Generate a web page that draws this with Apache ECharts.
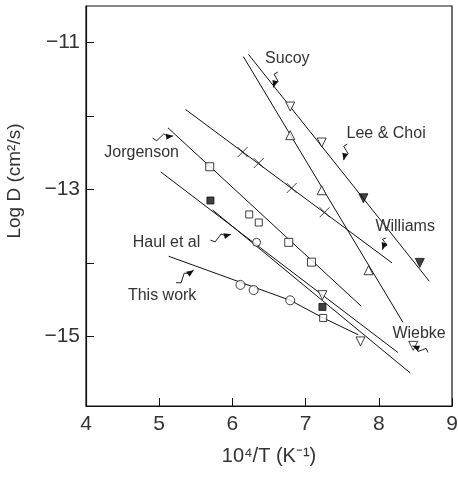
<!DOCTYPE html>
<html><head><meta charset="utf-8">
<script src="https://cdn.jsdelivr.net/npm/echarts@6/dist/echarts.min.js"></script>
<style>html,body{margin:0;padding:0;background:#fff}#c{width:458px;height:478px}</style>
</head><body><div id="c"></div>
<script>
// ---- axis ticks ----
const xTickLabels = [4, 5, 6, 7, 8, 9];
const yTickValues = [-15, -14, -13, -12, -11];
const yLabelValues = [-15, -13, -11];

// ---- fitted lines (x endpoints, y endpoints) ----
const sucoyLineX = [6.15, 8.33];   const sucoyLineY = [-11.19, -14.81];
const leeChoiLineX = [6.22, 8.69]; const leeChoiLineY = [-11.16, -14.25];
const williamsLineX = [5.36, 8.18]; const williamsLineY = [-11.91, -14.00];
const jorgensonLineX = [5.12, 7.76]; const jorgensonLineY = [-12.16, -14.59];
const haulLineX = [5.02, 8.26]; const haulLineY = [-12.76, -15.22];
const wiebkeLineX = [5.73, 8.43]; const wiebkeLineY = [-13.28, -15.50];
const thisWorkLineX = [5.13, 6.79, 7.24, 7.72]; const thisWorkLineY = [-13.91, -14.51, -14.75, -14.98];

// ---- data points ----
const sucoyPtsX = [6.79, 7.22, 7.86]; const sucoyPtsY = [-12.26, -13.01, -14.10];
const leeChoiOpenX = [6.79, 7.22]; const leeChoiOpenY = [-11.87, -12.36];
const leeChoiFillX = [7.79, 8.56]; const leeChoiFillY = [-13.12, -14.00];
const williamsPtsX = [6.14, 6.36, 6.81, 7.26]; const williamsPtsY = [-12.49, -12.64, -12.98, -13.31];
const jorgensonPtsX = [5.69, 6.77, 7.08]; const jorgensonPtsY = [-12.69, -13.72, -13.99];
const haulFillX = [5.70, 7.23]; const haulFillY = [-13.15, -14.60];
const haulOpenSqX = [6.23, 6.36, 7.24]; const haulOpenSqY = [-13.34, -13.45, -14.75];
const thisWorkPtsX = [6.11, 6.29, 6.79]; const thisWorkPtsY = [-14.30, -14.37, -14.51];
const hexPtsX = [6.33]; const hexPtsY = [-13.72];
const wiebkePtsX = [7.23, 7.75, 8.47]; const wiebkePtsY = [-14.44, -15.07, -15.13];

// ---- annotation labels ----
const labelTexts = ['Sucoy', 'Lee & Choi', 'Williams', 'Jorgenson', 'Haul et al', 'This work', 'Wiebke'];
const labelX = [6.75, 8.10, 8.36, 4.76, 5.10, 5.04, 8.55];
const labelY = [-11.21, -12.24, -13.51, -12.50, -13.73, -14.45, -14.97];
const pointerFromX = [6.62, 7.57, 8.10, 4.91, 5.70, 5.23, 8.67];
const pointerFromY = [-11.40, -12.38, -13.66, -12.30, -13.69, -14.27, -15.22];
const pointerToX = [6.56, 7.52, 8.05, 5.19, 5.98, 5.47, 8.46];
const pointerToY = [-11.61, -12.60, -13.82, -12.27, -13.61, -14.10, -15.13];

function zip(xs, ys) { return xs.map((x, i) => [x, ys[i]]); }

const crossPath = 'path://M0,0L10,10M10,0L0,10';
const lineStyle = { color: '#111', width: 1 };
function lineSeries(xs, ys) {
  return { type: 'line', data: zip(xs, ys), symbol: 'none', lineStyle: lineStyle, silent: true, z: 2 };
}
function markSeries(xs, ys, symbol, fill, size, rotate) {
  return { type: 'scatter', data: zip(xs, ys), symbol: symbol, symbolSize: size || 8, symbolRotate: rotate || 0,
    itemStyle: { color: fill ? '#111' : '#fff', borderColor: '#111', borderWidth: 1 }, z: 3 };
}

const chart = echarts.init(document.getElementById('c'));
const fontFam = 'Liberation Sans, Arial, sans-serif';
chart.setOption({
  animation: false,
  backgroundColor: '#fff',
  grid: { left: 86, right: 6, top: 6, bottom: 72, show: true, borderColor: '#111', borderWidth: 1.2,
    backgroundColor: 'transparent', containLabel: false, outerBoundsMode: 'none' },
  xAxis: {
    type: 'value', min: 4, max: 9, interval: 1,
    axisLine: { lineStyle: { color: '#111', width: 1.2 } },
    axisTick: { inside: true, length: 8, lineStyle: { color: '#111' } },
    axisLabel: { color: '#333', fontSize: 21, fontFamily: fontFam, margin: 8,
      formatter: v => xTickLabels.includes(v) ? String(v) : '' },
    splitLine: { show: false },
    name: '10⁴/T (K⁻¹)', nameLocation: 'middle', nameGap: 40,
    nameTextStyle: { color: '#333', fontSize: 20, fontFamily: fontFam }
  },
  yAxis: {
    type: 'value', min: -15.95, max: -10.5,
    axisLine: { lineStyle: { color: '#111', width: 1.2 } },
    axisTick: { inside: true, length: 8, customValues: yTickValues, lineStyle: { color: '#111' } },
    axisLabel: { color: '#333', fontSize: 21, fontFamily: fontFam, margin: 6, customValues: yLabelValues,
      formatter: v => '\u2212' + String(Math.abs(v)) },
    splitLine: { show: false },
    name: 'Log D (cm²/s)', nameLocation: 'middle', nameGap: 62,
    nameTextStyle: { color: '#333', fontSize: 19, fontFamily: fontFam, padding: [0, 0, 0, 50] }
  },
  series: [
    lineSeries(sucoyLineX, sucoyLineY),
    lineSeries(leeChoiLineX, leeChoiLineY),
    lineSeries(williamsLineX, williamsLineY),
    lineSeries(jorgensonLineX, jorgensonLineY),
    lineSeries(haulLineX, haulLineY),
    lineSeries(wiebkeLineX, wiebkeLineY),
    lineSeries(thisWorkLineX, thisWorkLineY),
    markSeries(sucoyPtsX, sucoyPtsY, 'triangle', false, 9),
    markSeries(leeChoiOpenX, leeChoiOpenY, 'triangle', false, 9, 180),
    markSeries(leeChoiFillX, leeChoiFillY, 'triangle', true, 9, 180),
    markSeries(williamsPtsX, williamsPtsY, crossPath, false, 10),
    markSeries(jorgensonPtsX, jorgensonPtsY, 'rect', false, 8),
    markSeries(haulFillX, haulFillY, 'rect', true, 7),
    markSeries(haulOpenSqX, haulOpenSqY, 'rect', false, 7),
    markSeries(thisWorkPtsX, thisWorkPtsY, 'circle', false, 9),
    markSeries(hexPtsX, hexPtsY, 'circle', false, 8),
    markSeries(wiebkePtsX, wiebkePtsY, 'triangle', false, 9, 180)
  ]
});

// annotations, positioned through the chart's own coordinate system
const g = [];
labelTexts.forEach((t, i) => {
  const p = chart.convertToPixel({ gridIndex: 0 }, [labelX[i], labelY[i]]);
  g.push({ type: 'text', x: p[0], y: p[1], style: { text: t, fill: '#333', fontSize: 16, fontFamily: fontFam, align: 'center', verticalAlign: 'middle' }, z: 10 });
  const a = chart.convertToPixel({ gridIndex: 0 }, [pointerFromX[i], pointerFromY[i]]);
  const b = chart.convertToPixel({ gridIndex: 0 }, [pointerToX[i], pointerToY[i]]);
  const dx = b[0] - a[0], dy = b[1] - a[1];
  const len = Math.hypot(dx, dy) || 1;
  const nx = -dy / len * 3, ny = dx / len * 3;
  const pts = [];
  for (let k = 0; k <= 4; k++) {
    const f = k / 4 * 0.75;
    const s = (k % 2 === 0) ? 0 : (k % 4 === 1 ? 1 : -1);
    pts.push([a[0] + dx * f + nx * s, a[1] + dy * f + ny * s]);
  }
  pts.push(b);
  g.push({ type: 'polyline', shape: { points: pts }, style: { stroke: '#222', lineWidth: 1, fill: null }, z: 10 });
  const ux = dx / len, uy = dy / len;
  const h = [b, [b[0] - ux * 7 + uy * 3, b[1] - uy * 7 - ux * 3], [b[0] - ux * 7 - uy * 3, b[1] - uy * 7 + ux * 3]];
  g.push({ type: 'polygon', shape: { points: h }, style: { fill: '#111' }, z: 10 });
});
chart.setOption({ graphic: g });
</script>
</body></html>
